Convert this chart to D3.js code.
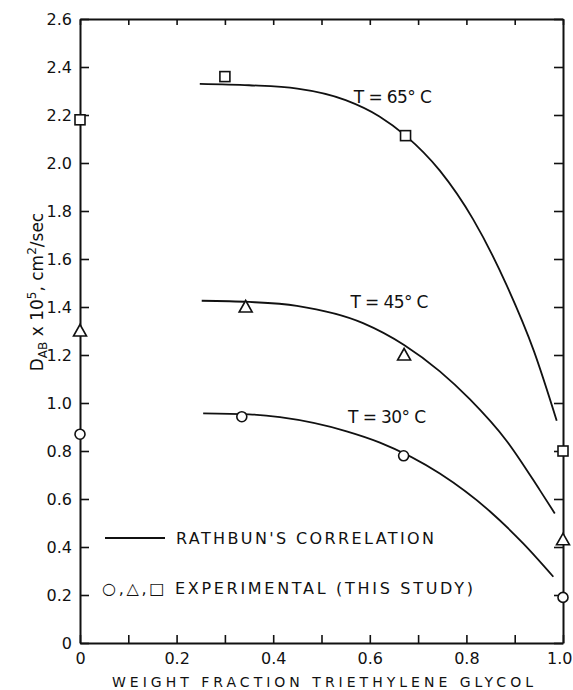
<!DOCTYPE html>
<html>
<head>
<meta charset="utf-8">
<script src="https://cdn.jsdelivr.net/npm/d3@7"></script>
<style>
  body { margin: 0; background: #fff; }
  svg { display: block; }
  text { font-family: "DejaVu Sans", sans-serif; fill: #111; }
  .axis path, .axis line { stroke: #111; }
</style>
</head>
<body>
<div id="chart"></div>
<script>
// experimental points (weight fraction, D_AB x 10^5)
const squareX = [0, 0.30, 0.674, 1.0];
const squareY = [2.18, 2.36, 2.114, 0.80];
const triangleX = [0, 0.343, 0.671, 1.0];
const triangleY = [1.30, 1.40, 1.20, 0.43];
const circleX = [0, 0.335, 0.67, 1.0];
const circleY = [0.87, 0.943, 0.78, 0.19];

// Rathbun's correlation curves
const curve65X = [0.248, 0.35, 0.45, 0.55, 0.62, 0.674, 0.745, 0.814, 0.883, 0.94, 0.987];
const curve65Y = [2.33, 2.324, 2.31, 2.262, 2.194, 2.114, 1.968, 1.765, 1.492, 1.215, 0.926];
const curve45X = [0.252, 0.35, 0.449, 0.586, 0.671, 0.745, 0.807, 0.883, 0.952, 0.983];
const curve45Y = [1.426, 1.421, 1.405, 1.333, 1.242, 1.132, 1.016, 0.843, 0.637, 0.54];
const curve30X = [0.255, 0.35, 0.414, 0.552, 0.621, 0.745, 0.849, 0.918, 0.98];
const curve30Y = [0.957, 0.953, 0.941, 0.882, 0.835, 0.706, 0.548, 0.414, 0.276];

const curveLabels = ["T = 65° C", "T = 45° C", "T = 30° C"];
const labelX = [0.567, 0.56, 0.555];
const labelY = [2.25, 1.394, 0.917];

const xTicks = [0, 0.1, 0.2, 0.3, 0.4, 0.5, 0.6, 0.7, 0.8, 0.9, 1.0];
const yTicks = [0, 0.2, 0.4, 0.6, 0.8, 1.0, 1.2, 1.4, 1.6, 1.8, 2.0, 2.2, 2.4, 2.6];

const width = 573, height = 690;
const margin = { top: 19, right: 10, bottom: 47, left: 80 };

const svg = d3.select("#chart").append("svg")
  .attr("width", width)
  .attr("height", height);

const xScale = d3.scaleLinear().domain([0, 1]).range([margin.left, width - margin.right]);
const yScale = d3.scaleLinear().domain([0, 2.6]).range([height - margin.bottom, margin.top]);

const x0 = xScale(0), x1 = xScale(1), y0 = yScale(0), y1 = yScale(2.6);

// axes (ticks pointing inward on every side)
const fmtX = (d) => {
  const k = Math.round(d * 10);
  if (k % 2) return "";
  return k === 0 ? "0" : d3.format(".1f")(d);
};
const fmtY = (d) => (d === 0 ? "0" : d3.format(".1f")(d));

svg.append("g").attr("class", "axis")
  .attr("transform", `translate(0,${y0})`)
  .call(d3.axisBottom(xScale).tickValues(xTicks).tickSize(-8).tickSizeOuter(0).tickPadding(10).tickFormat(fmtX))
  .call((g) => g.selectAll("text").style("font-size", "16px").attr("fill", "#111"))
  .call((g) => g.selectAll(".tick:last-of-type text").attr("text-anchor", "end").attr("x", 9));

svg.append("g").attr("class", "axis")
  .attr("transform", `translate(0,${y1})`)
  .call(d3.axisTop(xScale).tickValues(xTicks).tickSize(-6).tickSizeOuter(0).tickFormat(""));

svg.append("g").attr("class", "axis")
  .attr("transform", `translate(${x0},0)`)
  .call(d3.axisLeft(yScale).tickValues(yTicks).tickSize(-9).tickSizeOuter(0).tickPadding(8).tickFormat(fmtY))
  .call((g) => g.selectAll("text").style("font-size", "16px").attr("fill", "#111"));

svg.append("g").attr("class", "axis")
  .attr("transform", `translate(${x1},0)`)
  .call(d3.axisRight(yScale).tickValues(yTicks).tickSize(-9).tickSizeOuter(0).tickFormat(""));

svg.selectAll(".axis path.domain").attr("stroke-width", 2);
svg.selectAll(".axis .tick line").attr("stroke-width", 1.6);

// correlation curves
const line = d3.line()
  .x((d) => xScale(d[0]))
  .y((d) => yScale(d[1]))
  .curve(d3.curveMonotoneX);

[[curve65X, curve65Y], [curve45X, curve45Y], [curve30X, curve30Y]].forEach(([xs, ys]) => {
  svg.append("path")
    .datum(xs.map((x, i) => [x, ys[i]]))
    .attr("d", line)
    .attr("fill", "none")
    .attr("stroke", "#111")
    .attr("stroke-width", 1.8);
});

// curve labels
curveLabels.forEach((t, i) => {
  svg.append("text")
    .attr("x", xScale(labelX[i]))
    .attr("y", yScale(labelY[i]))
    .attr("textLength", 78)
    .attr("lengthAdjust", "spacing")
    .style("font-size", "17px")
    .text(t);
});

// markers
const mk = { fill: "#fff", stroke: "#111", sw: 1.6 };

svg.selectAll(".sq").data(squareX).enter().append("rect")
  .attr("x", (d) => xScale(d) - 5)
  .attr("y", (d, i) => yScale(squareY[i]) - 5)
  .attr("width", 10).attr("height", 10)
  .attr("fill", mk.fill).attr("stroke", mk.stroke).attr("stroke-width", mk.sw);

svg.selectAll(".tri").data(triangleX).enter().append("path")
  .attr("d", (d, i) => {
    const cx = xScale(d), cy = yScale(triangleY[i]);
    return `M${cx},${cy - 6.5}L${cx + 6.5},${cy + 5}L${cx - 6.5},${cy + 5}Z`;
  })
  .attr("fill", mk.fill).attr("stroke", mk.stroke).attr("stroke-width", mk.sw);

svg.selectAll(".ci").data(circleX).enter().append("circle")
  .attr("cx", (d) => xScale(d))
  .attr("cy", (d, i) => yScale(circleY[i]))
  .attr("r", 5)
  .attr("fill", mk.fill).attr("stroke", mk.stroke).attr("stroke-width", mk.sw);

// legend
svg.append("line")
  .attr("x1", 105).attr("x2", 165)
  .attr("y1", 538).attr("y2", 538)
  .attr("stroke", "#111").attr("stroke-width", 2);

svg.append("text")
  .attr("x", 176).attr("y", 544)
  .attr("textLength", 258).attr("lengthAdjust", "spacing")
  .style("font-size", "16px")
  .text("RATHBUN'S CORRELATION");

svg.append("text")
  .attr("x", 102).attr("y", 594)
  .attr("textLength", 371).attr("lengthAdjust", "spacing")
  .style("font-size", "16px")
  .text("○,△,□ EXPERIMENTAL (THIS STUDY)");

// axis titles
svg.append("text")
  .attr("x", (x0 + x1) / 2 + 1).attr("y", 687)
  .attr("text-anchor", "middle")
  .attr("textLength", 421).attr("lengthAdjust", "spacing")
  .style("font-size", "14px")
  .text("WEIGHT FRACTION TRIETHYLENE GLYCOL");

const yTitle = svg.append("text")
  .attr("transform", "translate(43,292) rotate(-90)")
  .attr("text-anchor", "middle")
  .style("font-size", "17px");
yTitle.append("tspan").text("D");
yTitle.append("tspan").attr("dy", 4).style("font-size", "12px").text("AB");
yTitle.append("tspan").attr("dy", -4).text(" x 10");
yTitle.append("tspan").attr("dy", -7).style("font-size", "12px").text("5");
yTitle.append("tspan").attr("dy", 7).text(", cm");
yTitle.append("tspan").attr("dy", -7).style("font-size", "12px").text("2");
yTitle.append("tspan").attr("dy", 7).text("/sec");
</script>
</body>
</html>
